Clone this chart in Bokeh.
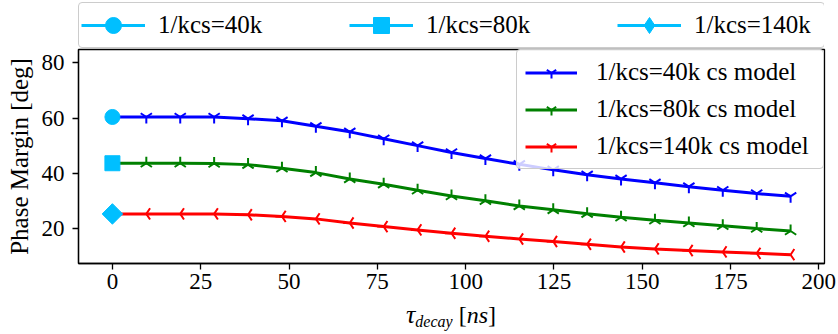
import math
from bokeh.plotting import figure
from bokeh.layouts import column
from bokeh.models import Range1d, FixedTicker, Legend, LegendItem, Div
from bokeh.embed import file_html
from bokeh.resources import INLINE

# ---- data ----
tau_ns = [0.0, 9.6, 19.2, 28.8, 38.4, 48.0, 57.6, 67.2, 76.8, 86.4, 96.0,
          105.6, 115.2, 124.8, 134.4, 144.0, 153.6, 163.2, 172.8, 182.4, 192.0]
pm_40k_model = [60.4, 60.4, 60.4, 60.4, 59.8, 59.0, 57.0, 55.0, 52.5, 50.0, 47.5,
                45.3, 43.2, 41.2, 39.4, 37.9, 36.5, 35.1, 33.8, 32.6, 31.6]
pm_80k_model = [43.6, 43.6, 43.6, 43.5, 43.1, 41.8, 40.2, 37.9, 36.0, 33.8, 31.7,
                30.0, 28.1, 26.7, 25.3, 24.0, 22.9, 21.9, 20.9, 19.9, 19.0]
pm_140k_model = [25.2, 25.2, 25.2, 25.2, 24.9, 24.3, 23.4, 21.9, 20.6, 19.4, 18.2,
                 17.1, 16.1, 15.2, 14.2, 13.2, 12.5, 11.9, 11.4, 10.9, 10.4]
meas_tau = [0.0]
pm_40k_meas = [60.4]
pm_80k_meas = [43.6]
pm_140k_meas = [25.2]

meas_labels = ["1/kcs=40k", "1/kcs=80k", "1/kcs=140k"]
model_labels = ["1/kcs=40k cs model", "1/kcs=80k cs model", "1/kcs=140k cs model"]
x_ticks = [0, 25, 50, 75, 100, 125, 150, 175, 200]
y_ticks = [20, 40, 60, 80]
y_label = "Phase Margin [deg]"

SERIF = "Liberation Serif"
CYAN = "#00BFFF"

# ---------------- main plot ----------------
p = figure(width=838, height=252, output_backend="svg", toolbar_location=None,
           x_range=Range1d(-9.6, 201.6), y_range=Range1d(7.2, 84.9),
           min_border_left=78, min_border_right=14, min_border_top=1,
           min_border_bottom=37)
p.background_fill_color = "white"
p.border_fill_color = "white"
p.grid.visible = False
p.outline_line_color = "black"
p.outline_line_width = 1.3
p.outline_line_alpha = 1.0

for ax in (p.xaxis[0], p.yaxis[0]):
    ax.axis_line_color = "black"
    ax.axis_line_width = 1.3
    ax.major_tick_line_color = "black"
    ax.major_tick_line_width = 1.3
    ax.major_tick_in = 0
    ax.major_tick_out = 6
    ax.minor_tick_line_color = None
    ax.major_label_text_font = SERIF
    ax.major_label_text_font_size = "23px"
    ax.major_label_text_color = "black"

p.xaxis.ticker = FixedTicker(ticks=x_ticks)
p.yaxis.ticker = FixedTicker(ticks=y_ticks)
p.xaxis.major_label_standoff = 4
p.yaxis.major_label_standoff = 8
p.yaxis.axis_label = y_label
p.yaxis.axis_label_text_font = SERIF
p.yaxis.axis_label_text_font_size = "25px"
p.yaxis.axis_label_text_font_style = "normal"
p.yaxis.axis_label_text_color = "black"
p.yaxis.axis_label_standoff = 6

def style_legend(lg):
    lg.label_text_font = SERIF
    lg.label_text_font_size = "25px"
    lg.label_text_color = "black"
    lg.margin = 0
    lg.background_fill_color = "white"
    lg.background_fill_alpha = 0.8
    lg.border_line_color = "#cccccc"
    lg.border_line_width = 1
    lg.border_line_alpha = 1.0
    if "border_radius" in Legend.properties():
        lg.border_radius = 4

# model curves
model_series = [
    (pm_40k_model, "#0000FF", 0.0),
    (pm_80k_model, "#008000", math.pi),
    (pm_140k_model, "#FF0000", -math.pi / 2),
]
model_items = []
for (vals, col, ang), lab in zip(model_series, model_labels):
    lr = p.line(tau_ns, vals, line_color=col, line_width=3)
    sr = p.scatter(tau_ns, vals, marker="y", size=13, angle=ang,
                   line_color=col, line_width=2, fill_color=None)
    model_items.append(LegendItem(label=lab, renderers=[lr, sr]))

# measured points
meas_series = [
    (pm_40k_meas, "circle", 15, 0.0),
    (pm_80k_meas, "square", 15, 0.0),
    (pm_140k_meas, "square", 14.5, math.pi / 4),
]
for vals, mk, sz, ang in meas_series:
    p.scatter(meas_tau, vals, marker=mk, size=sz, angle=ang,
              fill_color=CYAN, line_color=CYAN, line_width=1)

model_legend = Legend(items=model_items, orientation="vertical",
                      location="top_right")
style_legend(model_legend)
model_legend.glyph_width = 52
model_legend.glyph_height = 27
model_legend.label_height = 27
model_legend.label_standoff = 19
model_legend.padding = 8
model_legend.label_width = 219
model_legend.spacing = 9
p.add_layout(model_legend, "center")

# ---------------- top legend strip ----------------
# same measured series, drawn outside this strip's ranges, so that only
# their legend entries (line + marker) are visible
top = figure(width=838, height=48, output_backend="svg", toolbar_location=None,
             x_range=Range1d(1, 2), y_range=Range1d(0, 1),
             x_axis_type=None, y_axis_type=None,
             min_border_left=78, min_border_right=14, min_border_top=0,
             min_border_bottom=0)
top.grid.visible = False
top.outline_line_color = None
top.background_fill_color = "white"
top.border_fill_color = "white"
legend_markers = ["circle", "square", "diamond"]
meas_items = []
for (vals, _mk, sz, _ang), mk, lab in zip(meas_series, legend_markers, meas_labels):
    lr = top.line(meas_tau, vals, line_color=CYAN, line_width=3)
    sr = top.scatter(meas_tau, vals, marker=mk, size=sz,
                     fill_color=CYAN, line_color=CYAN, line_width=1)
    meas_items.append(LegendItem(label=lab, renderers=[lr, sr]))

top_legend = Legend(items=meas_items, orientation="horizontal",
                    location=(0, 0))
style_legend(top_legend)
top_legend.glyph_width = 64
top_legend.glyph_height = 40
top_legend.label_height = 27
top_legend.label_standoff = 13
top_legend.padding = 2
top_legend.label_width = 128
top_legend.spacing = 63
top.add_layout(top_legend, "center")

# ---------------- x-axis label: tau_decay [ns] ----------------
x_label_html = ('<i style="font-size:26px">\u03c4</i><sub style="font-size:16px;'
                'font-style:italic;vertical-align:-4px">decay</sub>&nbsp;'
                '[<i>ns</i>]')
xlabel = Div(text=x_label_html, width=746, height=34, margin=(0, 14, 0, 78),
             styles={"font-family": SERIF, "font-size": "24px",
                     "line-height": "30px", "text-align": "center",
                     "color": "black", "width": "746px"})

layout = column(top, p, xlabel, spacing=0)
open("out.html", "w").write(file_html(layout, INLINE))
